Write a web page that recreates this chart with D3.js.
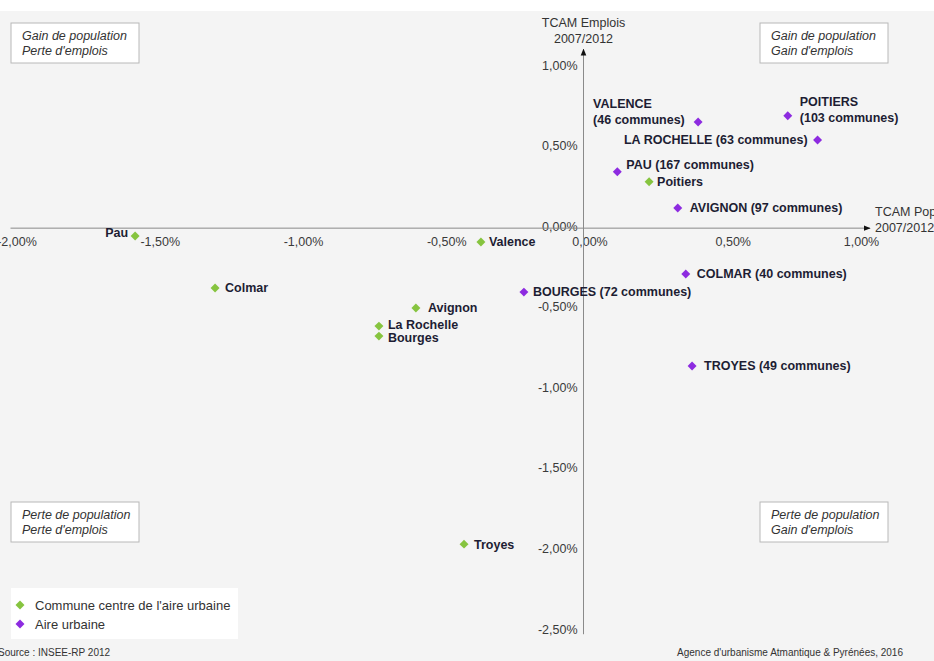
<!DOCTYPE html>
<html lang="fr">
<head>
<meta charset="UTF-8">
<title>TCAM Population / Emplois 2007-2012</title>
<script src="https://d3js.org/d3.v7.min.js"></script>
<style>
  body { margin: 0; background: #fff; font-family: "Liberation Sans", Arial, sans-serif; }
  svg { display: block; }
  .pt-label { font-weight: bold; font-size: 12.5px; fill: #1d1d33; }
  .tick text { font-size: 12.5px; fill: #3a3a3a; font-family: "Liberation Sans", Arial, sans-serif; }
  .quad text { font-style: italic; font-size: 12.5px; fill: #333; }
</style>
</head>
<body>
<div id="chart"></div>
<script>
// Communes centres (TCAM population, TCAM emplois, en %)
const communeNames = ["Pau", "Colmar", "Avignon", "La Rochelle", "Bourges", "Valence", "Troyes", "Poitiers"];
const communePop   = [-1.565, -1.286, -0.585, -0.714, -0.714, -0.358, -0.417, 0.229];
const communeEmp   = [-0.049, -0.372, -0.496, -0.608, -0.670, -0.086, -1.961, 0.288];

// Aires urbaines
const aireNames    = ["VALENCE", "POITIERS", "LA ROCHELLE", "PAU", "AVIGNON", "COLMAR", "BOURGES", "TROYES"];
const aireCommunes = [46, 103, 63, 167, 97, 40, 72, 49];
const airePop      = [0.400, 0.713, 0.817, 0.118, 0.329, 0.357, -0.208, 0.379];
const aireEmp      = [0.659, 0.698, 0.547, 0.350, 0.125, -0.285, -0.397, -0.856];

const xTicks = [-2, -1.5, -1, -0.5, 0, 0.5, 1];
const yTicks = [1, 0.5, 0, -0.5, -1, -1.5, -2, -2.5];

const quadrants = [
  {pos: "tl", lines: ["Gain de population", "Perte d'emplois"]},
  {pos: "tr", lines: ["Gain de population", "Gain d'emplois"]},
  {pos: "bl", lines: ["Perte de population", "Perte d'emplois"]},
  {pos: "br", lines: ["Perte de population", "Gain d'emplois"]}
];
const legendItems = ["Commune centre de l'aire urbaine", "Aire urbaine"];

const green = "#86c43f", purple = "#8d2be0";

// label placement around each point
const labelLayout = {
  "Pau":         {dx: -7, dy: -3, anchor: "end"},
  "Colmar":      {dx: 10, dy: 0},
  "Avignon":     {dx: 12, dy: 0},
  "La Rochelle": {dx: 9, dy: -1},
  "Bourges":     {dx: 9, dy: 2},
  "Valence":     {dx: 8, dy: 0},
  "Troyes":      {dx: 10, dy: 0},
  "Poitiers":    {dx: 8, dy: 0},
  "VALENCE":     {dx: -105, dy: -18, split: true},
  "POITIERS":    {dx: 12, dy: -14, split: true},
  "LA ROCHELLE": {dx: -10, dy: 0, anchor: "end"},
  "PAU":         {dx: 9, dy: -7},
  "AVIGNON":     {dx: 12, dy: 0},
  "COLMAR":      {dx: 11, dy: 0},
  "BOURGES":     {dx: 9, dy: 0},
  "TROYES":      {dx: 12, dy: 0}
};

const W = 934, H = 661;
const svg = d3.select("#chart").append("svg").attr("width", W).attr("height", H);

svg.append("rect").attr("x", 0).attr("y", 11).attr("width", W).attr("height", H - 11).attr("fill", "#f4f4f4");

const x = d3.scaleLinear().domain([-2, 1]).range([10.5, 870]);
const y = d3.scaleLinear().domain([-2.5, 1]).range([631, 67]);

const fr = d3.formatLocale({decimal: ",", thousands: " ", grouping: [3], currency: ["", "€"], minus: "-"});
const pct = v => fr.format(".2f")(v) + "%";

// arrow marker
svg.append("defs").append("marker")
  .attr("id", "arrow").attr("viewBox", "0 0 10 10")
  .attr("refX", 9).attr("refY", 5)
  .attr("markerWidth", 7).attr("markerHeight", 7)
  .attr("orient", "auto")
  .append("path").attr("d", "M0,1 L10,5 L0,9 Z").attr("fill", "#111");

// quadrant boxes
const quadPos = {tl: [11, 23], tr: [760, 23], bl: [11, 502], br: [760, 502]};
const quad = svg.append("g").attr("class", "quad");
quadrants.forEach(q => {
  const [qx, qy] = quadPos[q.pos];
  const g = quad.append("g").attr("transform", `translate(${qx},${qy})`);
  g.append("rect").attr("width", 128).attr("height", 40)
    .attr("fill", "#fff").attr("stroke", "#b8b8b8");
  q.lines.forEach((t, i) => {
    g.append("text").attr("x", 11).attr("y", 17 + i * 15).text(t);
  });
});

// axes
const xAxis = svg.append("g")
  .attr("transform", `translate(0,${y(0)})`)
  .call(d3.axisBottom(x).tickValues(xTicks).tickSize(0).tickFormat(pct));
xAxis.select(".domain").remove();
xAxis.selectAll(".tick text")
  .attr("y", 18).attr("dy", 0)
  .attr("dx", d => d === 1 ? -9 : 6);

const yAxis = svg.append("g")
  .attr("transform", `translate(${x(0)},0)`)
  .call(d3.axisLeft(y).tickValues(yTicks).tickSize(0).tickPadding(6).tickFormat(pct));
yAxis.select(".domain").remove();
yAxis.selectAll(".tick text").attr("y", -2);

svg.append("line")
  .attr("x1", x(-2)).attr("x2", x(1))
  .attr("y1", y(0)).attr("y2", y(0))
  .attr("stroke", "#8a8a8a").attr("stroke-width", 1)
  .attr("marker-end", "url(#arrow)");
svg.append("line")
  .attr("x1", x(0)).attr("x2", x(0))
  .attr("y1", y(-2.52)).attr("y2", y(1.11))
  .attr("stroke", "#8a8a8a").attr("stroke-width", 1)
  .attr("marker-end", "url(#arrow)");

// axis titles
const axTitle = svg.append("g").style("font-size", "12.5px").style("fill", "#333");
axTitle.append("text").attr("x", x(0)).attr("y", 27).attr("text-anchor", "middle").text("TCAM Emplois");
axTitle.append("text").attr("x", x(0)).attr("y", 43).attr("text-anchor", "middle").text("2007/2012");
axTitle.append("text").attr("x", x(1) + 5).attr("y", 216).text("TCAM Population");
axTitle.append("text").attr("x", x(1) + 5).attr("y", 232).text("2007/2012");

// points
const diamond = d3.symbol(d3.symbolSquare, 40);

const communes = communeNames.map((n, i) => ({name: n, label: n, px: communePop[i], py: communeEmp[i], color: green}));
const aires = aireNames.map((n, i) => ({name: n, label: `${n} (${aireCommunes[i]} communes)`,
  px: airePop[i], py: aireEmp[i], color: purple}));
const points = communes.concat(aires);

svg.selectAll(".pt")
  .data(points)
  .enter().append("path")
  .attr("class", "pt")
  .attr("d", diamond)
  .attr("transform", d => `translate(${x(d.px)},${y(d.py)}) rotate(45)`)
  .attr("fill", d => d.color);

points.forEach(d => {
  const L = labelLayout[d.name];
  const t = svg.append("text").attr("class", "pt-label")
    .attr("text-anchor", L.anchor || "start");
  const tx = x(d.px) + L.dx, ty = y(d.py) + L.dy;
  if (L.split) {
    const parts = [d.name, d.label.slice(d.name.length + 1)];
    parts.forEach((p, i) => {
      t.append("tspan").attr("x", tx).attr("y", ty + i * 16).attr("dy", "0.35em").text(p);
    });
  } else {
    t.attr("x", tx).attr("y", ty).attr("dy", "0.35em").text(d.label);
  }
});

// legend
const leg = svg.append("g");
leg.append("rect").attr("x", 11).attr("y", 588).attr("width", 227).attr("height", 51).attr("fill", "#fff");
legendItems.forEach((t, i) => {
  const cy = 605 + i * 19;
  leg.append("path").attr("d", diamond)
    .attr("transform", `translate(20,${cy}) rotate(45)`)
    .attr("fill", i === 0 ? green : purple);
  leg.append("text").attr("x", 35).attr("y", cy).attr("dy", "0.35em")
    .style("font-size", "13px").style("fill", "#333").text(t);
});

// footer
svg.append("text").attr("x", -2).attr("y", 656)
  .style("font-size", "10px").style("fill", "#333").text("Source : INSEE-RP 2012");
svg.append("text").attr("x", 903).attr("y", 656).attr("text-anchor", "end")
  .style("font-size", "10px").style("fill", "#333").text("Agence d'urbanisme Atmantique & Pyrénées, 2016");
</script>
</body>
</html>
